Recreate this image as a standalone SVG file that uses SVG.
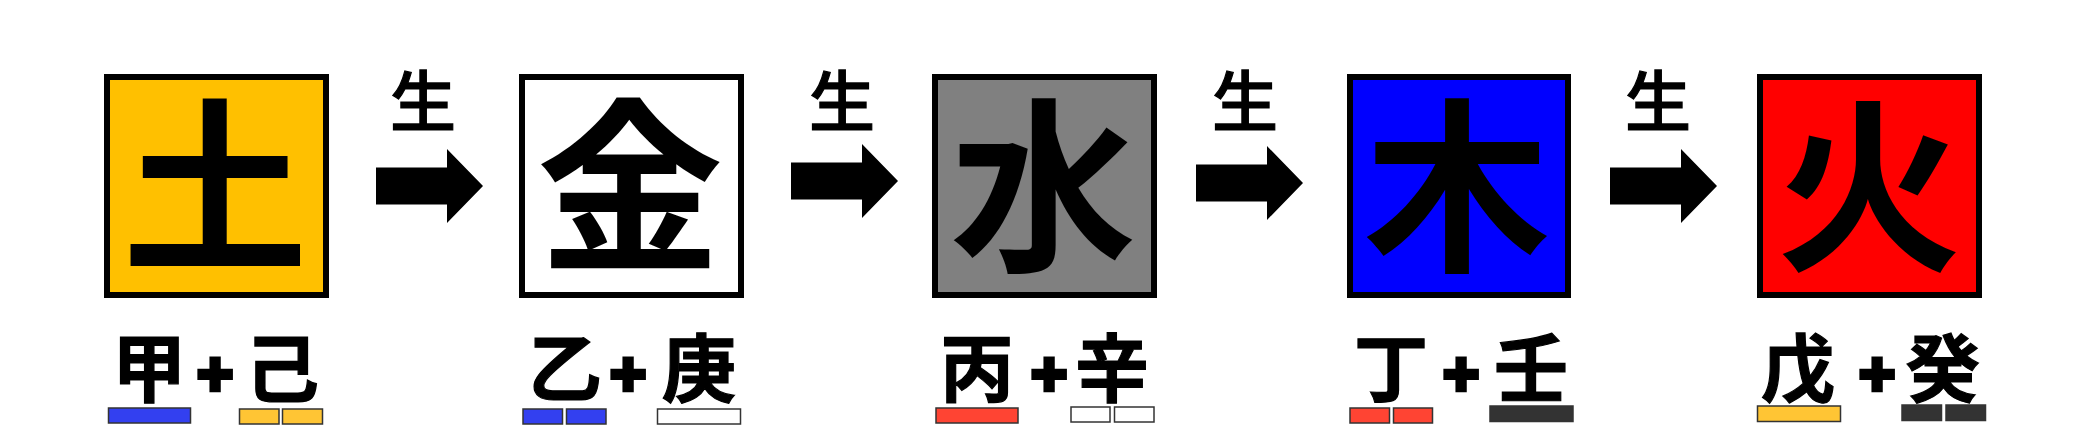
<svg xmlns="http://www.w3.org/2000/svg" width="2083" height="429" viewBox="0 0 2083 429">
  <style>
    .box { stroke: #000; stroke-width: 6; }
    .big { font-family: "Noto Sans CJK JP", "Noto Sans CJK SC", sans-serif; font-size: 186px; font-weight: bold; text-anchor: middle; fill: #000; }
    .sheng { font-family: "Noto Sans CJK JP", "Noto Sans CJK SC", sans-serif; font-size: 66px; font-weight: 500; text-anchor: middle; fill: #000; stroke: #000; stroke-width: 1.2; }
    .stem { font-family: "Noto Sans CJK JP", "Noto Sans CJK SC", sans-serif; font-size: 74px; font-weight: bold; text-anchor: middle; fill: #000; stroke: #000; stroke-width: 1.2; }
    .plus { font-family: "Liberation Sans", Arial, sans-serif; font-size: 62px; font-weight: bold; text-anchor: middle; fill: #000; stroke: #000; stroke-width: 4.5; }
    .bar { stroke: #333; stroke-width: 1.5; }
    .blue { fill: #3340F0; }
    .yellow { fill: #FFC534; }
    .red { fill: #FF4433; }
    .white { fill: #FFFFFF; }
    .dark { fill: #333333; }
  </style>
  <defs>
    <path id="arrow" d="M0,-18.5 H71 V-37 L107,0 L71,37 V18.5 H0 Z" fill="#000"/>
  </defs>

  <g id="connectors">
    <use href="#arrow" x="376" y="186"/>
    <use href="#arrow" x="791" y="181"/>
    <use href="#arrow" x="1196" y="183"/>
    <use href="#arrow" x="1610" y="186"/>
    <text class="sheng" x="423" y="126">生</text>
    <text class="sheng" x="842" y="126">生</text>
    <text class="sheng" x="1245" y="126">生</text>
    <text class="sheng" x="1658" y="126">生</text>
  </g>

  <g id="earth">
    <rect class="box" x="107" y="77" width="219" height="218" fill="#FFC000"/>
    <text class="big" x="215" y="257">土</text>
    <text class="stem" x="149" y="396">甲</text>
    <text class="plus" x="215" y="395">+</text>
    <text class="stem" x="282" y="396">己</text>
    <rect class="bar blue" x="108.5" y="408" width="82" height="15"/>
    <rect class="bar yellow" x="239.5" y="409" width="39.5" height="15"/>
    <rect class="bar yellow" x="282.5" y="409" width="40" height="15"/>
  </g>

  <g id="metal">
    <rect class="box" x="522" y="77" width="219" height="218" fill="#FFFFFF"/>
    <text class="big" x="630" y="257">金</text>
    <text class="stem" x="565" y="396">乙</text>
    <text class="plus" x="628" y="395">+</text>
    <text class="stem" x="699" y="396">庚</text>
    <rect class="bar blue" x="523" y="409" width="39.5" height="15"/>
    <rect class="bar blue" x="566.5" y="409" width="39.5" height="15"/>
    <rect class="bar white" x="657.5" y="409" width="83" height="15"/>
  </g>

  <g id="water">
    <rect class="box" x="935" y="77" width="219" height="218" fill="#808080"/>
    <text class="big" x="1043" y="257">水</text>
    <text class="stem" x="977" y="396">丙</text>
    <text class="plus" x="1049" y="395">+</text>
    <text class="stem" x="1112" y="396">辛</text>
    <rect class="bar red" x="936" y="408" width="82" height="15"/>
    <rect class="bar white" x="1071" y="407" width="39" height="15"/>
    <rect class="bar white" x="1114.5" y="407" width="39.5" height="15"/>
  </g>

  <g id="wood">
    <rect class="box" x="1350" y="77" width="218" height="218" fill="#0000FF"/>
    <text class="big" x="1457" y="257">木</text>
    <text class="stem" x="1391" y="396">丁</text>
    <text class="plus" x="1461" y="395">+</text>
    <text class="stem" x="1531" y="396">壬</text>
    <rect class="bar red" x="1350" y="408" width="39.5" height="15"/>
    <rect class="bar red" x="1393.5" y="408" width="39" height="15"/>
    <rect class="bar dark" x="1490" y="406" width="83" height="15.5"/>
  </g>

  <g id="fire">
    <rect class="box" x="1760" y="77" width="219" height="218" fill="#FF0000"/>
    <text class="big" x="1869" y="257">火</text>
    <text class="stem" x="1798" y="396">戊</text>
    <text class="plus" x="1877" y="395">+</text>
    <text class="stem" x="1943" y="396">癸</text>
    <rect class="bar yellow" x="1757.5" y="406" width="83" height="15.5"/>
    <rect class="bar dark" x="1902" y="405" width="39.5" height="15.5"/>
    <rect class="bar dark" x="1946" y="405" width="39.5" height="15.5"/>
  </g>
</svg>
